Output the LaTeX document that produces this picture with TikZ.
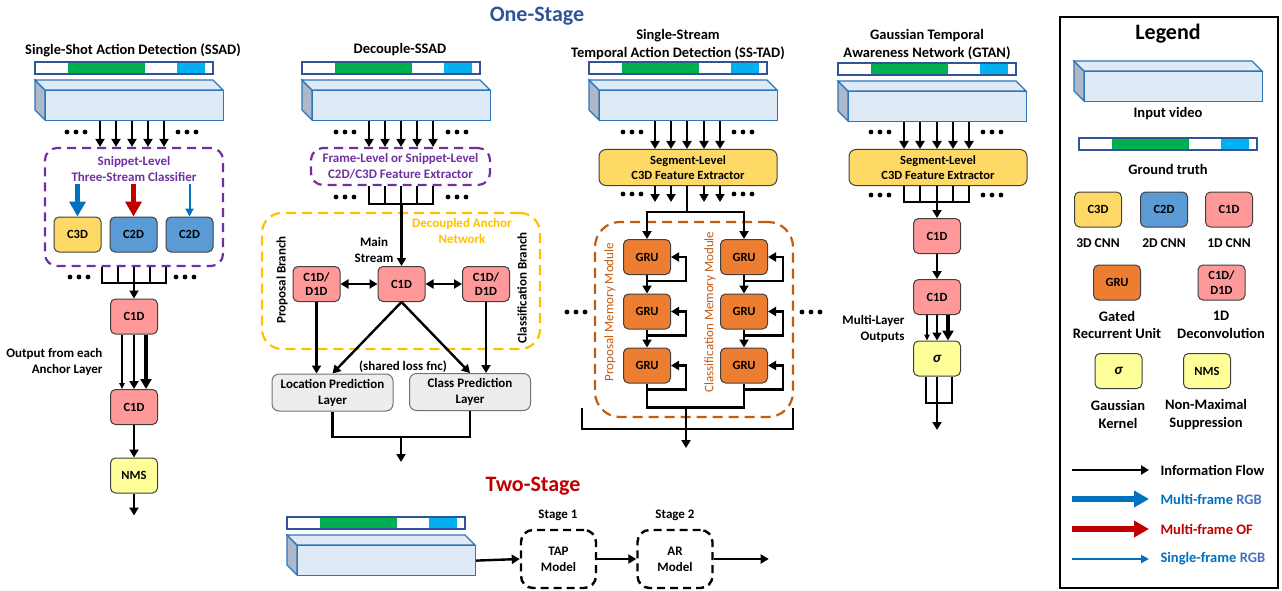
\documentclass[tikz,border=0pt]{standalone}
\usepackage{fontspec}
\setmainfont{Carlito}
\usepackage{tikz}
\usetikzlibrary{arrows.meta, positioning, calc}

\definecolor{vidfill}{HTML}{DEEBF7}
\definecolor{vidside}{HTML}{ADB9CA}
\definecolor{videdge}{HTML}{2E75B6}
\definecolor{gtedge}{HTML}{2F5597}
\definecolor{gtgreen}{HTML}{00B050}
\definecolor{gtcyan}{HTML}{00B0F0}
\definecolor{cthree}{HTML}{FFD966}
\definecolor{ctwo}{HTML}{5B9BD5}
\definecolor{cone}{HTML}{FF9999}
\definecolor{grufill}{HTML}{ED7D31}
\definecolor{lightyel}{HTML}{FFFF99}
\definecolor{predfill}{HTML}{EDEDED}
\definecolor{purp}{HTML}{7030A0}
\definecolor{gold}{HTML}{FFC000}
\definecolor{rust}{HTML}{C55A11}
\definecolor{rgbblue}{HTML}{0070C0}
\definecolor{rgblight}{HTML}{4472C4}
\definecolor{ofred}{HTML}{C00000}
\definecolor{onestage}{HTML}{2F5597}

% ground truth bar: x, y of top left corner
\newcommand{\gtbar}[2]{%
  \fill[white] (#1,#2) rectangle ++(178,12);
  \fill[gtgreen] (#1+33,#2) rectangle ++(77,12);
  \fill[gtcyan] (#1+142,#2) rectangle ++(28,12);
  \draw[gtedge, line width=1.2pt] (#1,#2) rectangle ++(178,12);
}
% input video block: name, x, y of back top left corner
\newcommand{\vidbox}[3]{%
  \draw[videdge, fill=vidside, line width=1.2pt] (#2,#3) -- ++(10,10) -- ++(0,30) -- ++(-10,-10) -- cycle;
  \draw[videdge, fill=vidfill, line width=1.2pt] (#2,#3) -- ++(178,0) -- ++(10,10) -- ++(-178,0) -- cycle;
  \node[vidface] (#1) at (#2+10,#3+10) {};
}
% three dots
\newcommand{\tridots}[2]{%
  \foreach \dx in {-9,0,9} {\fill (#1+\dx,#2) circle (2.4pt);}
}

\begin{document}
\begin{tikzpicture}[x=1pt, y=-1pt,
  font=\bfseries\fontsize{13}{16}\selectfont,
  every node/.style={align=center},
  title/.style={font=\bfseries\fontsize{14.5}{18}\selectfont},
  big/.style={font=\bfseries\fontsize{22}{26}\selectfont},
  legtext/.style={font=\bfseries\fontsize{14.5}{17.5}\selectfont},
  line/.style={line width=2.4pt},
  flow/.style={line width=2.4pt, -{Triangle[length=8pt,width=9pt]}},
  thinflow/.style={line width=1.1pt, -{Triangle[length=6pt,width=5.5pt]}},
  thickflow/.style={line width=4.4pt, -{Triangle[length=10pt,width=11pt]}},
  dflow/.style={line width=2.4pt, {Triangle[length=8pt,width=9pt]}-{Triangle[length=8pt,width=9pt]}},
  mrgb/.style={rgbblue, line width=5.5pt, -{Triangle[length=15pt,width=16pt]}},
  mof/.style={ofred, line width=5.5pt, -{Triangle[length=15pt,width=16pt]}},
  srgb/.style={rgbblue, line width=2pt, -{Triangle[length=8pt,width=8pt]}},
  vidface/.style={draw=videdge, fill=vidfill, line width=1.2pt, anchor=north west,
    minimum width=178pt, minimum height=30pt, inner sep=0pt},
  box/.style={draw=black!75, line width=1pt, rounded corners=5pt, minimum width=47pt,
    minimum height=35pt, inner sep=1pt, font=\bfseries\fontsize{12.5}{14.5}\selectfont},
  cthreebox/.style={box, fill=cthree},
  ctwobox/.style={box, fill=ctwo},
  cbox/.style={box, fill=cone},
  grubox/.style={box, fill=grufill},
  sigbox/.style={box, fill=lightyel},
  nmsbox/.style={box, fill=lightyel},
  extbox/.style={box, fill=cthree, minimum width=178pt, minimum height=36pt, rounded corners=7pt},
  predbox/.style={box, fill=predfill, draw=black!55, minimum width=121pt, minimum height=37pt,
    rounded corners=7pt, font=\bfseries\fontsize{13}{16}\selectfont},
  pdash/.style={draw=purp, line width=2.2pt, dash pattern=on 9pt off 6pt, rounded corners=12pt},
  ydash/.style={draw=gold, line width=2.2pt, dash pattern=on 10pt off 6pt, rounded corners=20pt},
  odash/.style={draw=rust, line width=2.2pt, dash pattern=on 10pt off 6pt, rounded corners=25pt},
  tdash/.style={draw, line width=2.4pt, dash pattern=on 8pt off 5pt, rounded corners=12pt,
    minimum width=75pt, minimum height=58pt}
]
\useasboundingbox (0,0) rectangle (1282,591);

% One-Stage heading
\node[big, text=onestage] (one) at (537,16) {One-Stage};

% ---------------- SSAD ----------------
\node[title] (tA) at (133,50) {Single-Shot Action Detection (SSAD)};
\gtbar{35}{62}
\vidbox{vA}{35}{80}
\node[pdash, minimum width=178pt, minimum height=118pt] (clsA) at (134,207) {};
\node[text=purp] (clsAt) at (134,169) {Snippet-Level\\Three-Stream Classifier};
\foreach \x in {100,116,132,148,164}
  \draw[flow] (\x,0 |- vA.south) -- (\x,0 |- clsA.north);
\tridots{76}{132}
\tridots{187}{132}

% three streams
\node[cthreebox] (c3A) at (77.5,234.5) {C3D};
\node[ctwobox] (c2A) at (133.5,234.5) {C2D};
\node[ctwobox] (c2B) at (189.5,234.5) {C2D};
\draw[mrgb] ($(c3A.north)+(0,-33)$) -- (c3A.north);
\draw[mof] ($(c2A.north)+(0,-33)$) -- (c2A.north);
\draw[srgb] ($(c2B.north)+(0,-33)$) -- (c2B.north);

% anchor layers
\draw[line] (102,0 |- clsA.south) |- (166,283) -- (166,0 |- clsA.south);
\foreach \x in {118,134,150}
  \draw[line] (\x,0 |- clsA.south) -- (\x,283);
\tridots{79}{277}
\tridots{185}{277}
\node[cbox] (c1A) at (134,316.5) {C1D};
\node[cbox] (c1B) at (134,407) {C1D};
\node[nmsbox] (nmsA) at (134,475.5) {NMS};
\coordinate (jA) at (134,283);
\draw[flow] (jA) -- (c1A.north);
\draw[thinflow] (122,0 |- c1A.south) -- (122,0 |- c1B.north);
\draw[flow] (c1A) -- (c1B);
\draw[thickflow] (146,0 |- c1A.south) -- (146,0 |- c1B.north);
\draw[flow] (c1B) -- (nmsA);
\draw[flow] (nmsA.south) -- ++(0,22);
\node[anchor=east, align=right] (outA) at (106,362) {Output from each\\Anchor Layer};

% ---------------- Decouple-SSAD ----------------
\node[title] (tB) at (400,50) {Decouple-SSAD};
\gtbar{302}{62}
\vidbox{vB}{302}{80}
\node[pdash, minimum width=179pt, minimum height=37pt, text=purp] (extB) at (400.5,166.5)
  {Frame-Level or Snippet-Level\\C2D/C3D Feature Extractor};
\foreach \x in {369,385,401,417,433}
  \draw[flow] (\x,0 |- vB.south) -- (\x,0 |- extB.north);
\tridots{345}{132}
\tridots{457}{132}
\tridots{345}{197}
\tridots{457}{197}
\draw[line] (369,0 |- extB.south) |- (433,204) -- (433,0 |- extB.south);
\foreach \x in {385,401,417}
  \draw[line] (\x,0 |- extB.south) -- (\x,204);

% decoupled anchor network
\node[ydash, minimum width=278pt, minimum height=136pt] (danB) at (401,281) {};
\node[text=gold] (danBt) at (462,231) {Decoupled Anchor\\Network};
\node (msB) at (374,250) {Main\\Stream};
\node[cbox] (mainB) at (401.5,284) {C1D};
\node[cbox] (propB) at (316.5,284) {C1D/\\D1D};
\node[cbox] (clsB) at (486,284) {C1D/\\D1D};
\coordinate (jB0) at (401.5,204);
\draw[flow] (jB0) -- (mainB.north);
\draw[dflow] (propB) -- (mainB);
\draw[dflow] (mainB) -- (clsB);
\node[rotate=90] (pbB) at (282,280) {Proposal Branch};
\node[rotate=90] (cbB) at (522,288) {Classification Branch};

% prediction layers
\node[predbox] (locB) at (332.5,392.5) {Location Prediction\\Layer};
\node[predbox] (clpB) at (470,392) {Class Prediction\\Layer};
\draw[flow] (propB.south) -- (propB.south |- locB.north);
\draw[flow] (mainB.south) -- (locB.north);
\draw[flow] (mainB.south) -- (clpB.north);
\draw[flow] (clsB.south) -- (clsB.south |- clpB.north);
\node (slB) at (403,367) {(shared loss fnc)};
\coordinate (jB) at (401,437);
\draw[line] (locB.south) |- (jB) -| (clpB.south);
\draw[flow] (jB) -- ++(0,25);

% ---------------- SS-TAD ----------------
\node[title] (tC) at (678,45) {Single-Stream\\Temporal Action Detection (SS-TAD)};
\gtbar{589}{62}
\vidbox{vC}{589}{80}
\node[extbox] (extC) at (688,167.5) {Segment-Level\\C3D Feature Extractor};
\foreach \x in {655,671,687,704,720}
  \draw[flow] (\x,0 |- vC.south) -- (\x,0 |- extC.north);
\foreach \x in {655,671,704,720}
  \draw[flow] (\x,0 |- extC.south) -- (\x,202);
\tridots{632}{132}
\tridots{743}{132}
\tridots{632}{194}
\tridots{743}{194}

% memory modules
\node[odash, minimum width=198pt, minimum height=195pt] (memC) at (694,319.5) {};
\node[grubox] (pg1) at (647,257) {GRU};
\node[grubox] (pg2) at (647,311.5) {GRU};
\node[grubox] (pg3) at (647,365.5) {GRU};
\node[grubox] (cg1) at (744,257) {GRU};
\node[grubox] (cg2) at (744,311.5) {GRU};
\node[grubox] (cg3) at (744,365.5) {GRU};
\coordinate (sC) at (687,212);
\draw[line] (687,0 |- extC.south) -- (sC);
\draw[flow] (sC) -| (pg1.north);
\draw[flow] (sC) -| (cg1.north);
\draw[flow] (pg1) -- (pg2);
\draw[flow] (pg2) -- (pg3);
\draw[flow] (cg1) -- (cg2);
\draw[flow] (cg2) -- (cg3);
\foreach \g in {pg1,pg2,pg3,cg1,cg2,cg3}
  \draw[flow] ($(\g.south)+(0,6)$) -| ($(\g.east)+(15,0)$) -- (\g.east);
\draw[line] (pg3.south) -- ++(0,24) -| (cg3.south);
\node[rotate=90, text=rust, font=\fontsize{13}{16}\selectfont] (pmC) at (610,312) {Proposal Memory Module};
\node[rotate=90, text=rust, font=\fontsize{13}{16}\selectfont] (cmC) at (710,312) {Classification Memory Module};
\draw[line] (582,408) |- (793,429) -- (793,408);
\coordinate (jC) at (686,407);
\draw[flow] (jC) -- ++(0,41);
\tridots{576}{312}
\tridots{811}{312}

% ---------------- GTAN ----------------
\node[title] (tD) at (927,45) {Gaussian Temporal\\Awareness Network (GTAN)};
\gtbar{838}{63}
\vidbox{vD}{838}{81}
\node[extbox] (extD) at (938,167.5) {Segment-Level\\C3D Feature Extractor};
\foreach \x in {904,920,937,953,969}
  \draw[flow] (\x,0 |- vD.south) -- (\x,0 |- extD.north);
\draw[line] (904,0 |- extD.south) |- (969,202) -- (969,0 |- extD.south);
\foreach \x in {920,937,953}
  \draw[line] (\x,0 |- extD.south) -- (\x,202);
\tridots{880}{132}
\tridots{992}{132}
\tridots{880}{195}
\tridots{992}{195}
\node[cbox] (gc1) at (937,236) {C1D};
\node[cbox] (gc2) at (937,297) {C1D};
\node[sigbox, font=\bfseries\itshape\fontsize{15}{16}\selectfont] (sigD) at (937,358.5) {σ};
\coordinate (jD) at (937,202);
\draw[flow] (jD) -- (gc1.north);
\draw[flow] (gc1) -- (gc2);
\draw[thinflow] (927,0 |- gc2.south) -- (927,0 |- sigD.north);
\draw[flow] (gc2) -- (sigD);
\draw[thickflow] (948,0 |- gc2.south) -- (948,0 |- sigD.north);
\node[anchor=east, align=right] (mlD) at (908,329) {Multi-Layer\\Outputs};
\draw[line] (926,0 |- sigD.south) |- (952,403) -- (952,0 |- sigD.south);
\draw[line] (sigD.south) -- (937,403);
\coordinate (oD) at (937,403);
\draw[flow] (oD) -- ++(0,27);

% ---------------- Legend ----------------
\node[draw, line width=2.8pt, minimum width=218pt, minimum height=571pt] (leg) at (1169,302.5) {};
\node[big] (legt) at (1168,34) {Legend};
\vidbox{vL}{1074}{61}
\node[legtext] (lvid) at (1168,114) {Input video};
\gtbar{1079}{138}
\node[legtext] (lgt) at (1168,169) {Ground truth};
\node[cthreebox] (lc3) at (1098,209.5) {C3D};
\node[ctwobox] (lc2) at (1164,209.5) {C2D};
\node[cbox] (lc1) at (1229,209.5) {C1D};
\node[font=\bfseries\fontsize{13.5}{16}\selectfont] (lc3t) at (1098,243) {3D CNN};
\node[font=\bfseries\fontsize{13.5}{16}\selectfont] (lc2t) at (1164,243) {2D CNN};
\node[font=\bfseries\fontsize{13.5}{16}\selectfont] (lc1t) at (1229,243) {1D CNN};
\node[grubox] (lgru) at (1117,282.5) {GRU};
\node[cbox] (ldc) at (1221.5,282.5) {C1D/\\D1D};
\node[legtext] (lgrut) at (1117,325) {Gated\\Recurrent Unit};
\node[legtext] (ldct) at (1221,325) {1D\\Deconvolution};
\node[sigbox, font=\bfseries\itshape\fontsize{15}{16}\selectfont] (lsig) at (1118.5,371) {σ};
\node[nmsbox] (lnms) at (1207,371) {NMS};
\node[legtext] (lsigt) at (1118,414.5) {Gaussian\\Kernel};
\node[legtext] (lnmst) at (1206,414.5) {Non-Maximal\\Suppression};

\coordinate (la1) at (1072,470);
\coordinate (la2) at (1072,499);
\coordinate (la3) at (1072,529);
\coordinate (la4) at (1072,559);
\draw[flow] (la1) -- ++(77,0);
\draw[mrgb] (la2) -- ++(77,0);
\draw[mof] (la3) -- ++(77,0);
\draw[srgb] (la4) -- ++(77,0);
\node[legtext, anchor=west] (lt1) at (1157,470) {Information Flow};
\node[legtext, anchor=west] (lt2) at (1157,499) {\textcolor{rgbblue}{Multi-frame} \textcolor{rgblight}{RGB}};
\node[legtext, anchor=west, text=ofred] (lt3) at (1157,529) {Multi-frame OF};
\node[legtext, anchor=west] (lt4) at (1157,559) {\textcolor{rgbblue}{Single-frame} \textcolor{rgblight}{RGB}};

% ---------------- Two-Stage ----------------
\node[big, text=ofred] (two) at (533,486) {Two-Stage};
\gtbar{287}{517}
\vidbox{vT}{287}{535}
\node[tdash] (tap) at (558.5,559) {TAP\\Model};
\node[tdash] (arm) at (675,559) {AR\\Model};
\node (s1) at (558,515) {Stage 1};
\node (s2) at (675,515) {Stage 2};
\draw[flow] (vT.east) -- (tap.west);
\draw[flow] (tap) -- (arm);
\draw[flow] (arm.east) -- ++(55,0);
\end{tikzpicture}
\end{document}
